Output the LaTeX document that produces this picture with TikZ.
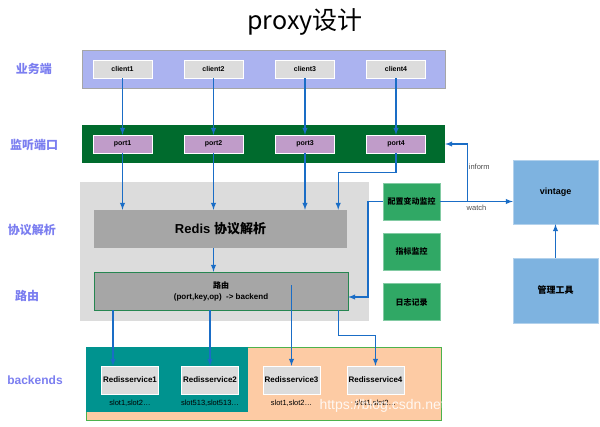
\documentclass[tikz,border=0pt]{standalone}
\usepackage{fontspec}
\setmainfont{Liberation Sans}
\newfontfamily\cjk{Noto Sans CJK SC}
\definecolor{bandblue}{HTML}{ABB3F0}
\definecolor{banddark}{HTML}{006B2D}
\definecolor{portpurple}{HTML}{C09CC9}
\definecolor{boxgray}{HTML}{DCDCDC}
\definecolor{midgray}{HTML}{A6A6A6}
\definecolor{arrowblue}{HTML}{1A6DC6}
\definecolor{labelblue}{HTML}{7B7EF0}
\definecolor{backteal}{HTML}{00938F}
\definecolor{peach}{HTML}{FDCBA4}
\definecolor{monigreen}{HTML}{30A865}
\definecolor{skyblue}{HTML}{7EB3E0}

\begin{document}
\begin{tikzpicture}[x = 1pt, y = -1pt,
	box/.style = {minimum width = #1, inner sep = 0pt, align = center, font = \bfseries\fontsize{7}{8}\selectfont},
	lane/.style = {font = \bfseries\fontsize{12}{13}\selectfont, text = labelblue},
	flow/.style = {-latex, draw = arrowblue, line width = 1.4pt}]
	\useasboundingbox (0,0) rectangle (600,426);

	\node (title) at (305,22) {\cjk\fontsize{25}{27}\selectfont proxy设计};

	% layer labels
	\node[lane] (l1) at (34,69) {\cjk 业务端};
	\node[lane] (l2) at (34,145) {\cjk 监听端口};
	\node[lane] (l3) at (32,230) {\cjk 协议解析};
	\node[lane] (l4) at (27,296) {\cjk 路由};
	\node[lane] (l5) at (35,380) {backends};

	% client and port bands
	\node[box = 363pt, minimum height = 38pt, fill = bandblue, draw = gray!70] (clientband) at (263.5,69) {};
	\node[box = 363pt, minimum height = 38pt, fill = banddark] (portband) at (263.5,144) {};
	\foreach \i/\x in {1/122.5, 2/213.5, 3/305, 4/396} {
		\node[box = 59pt, minimum height = 18pt, fill = boxgray, draw = white] (c\i) at (\x,69) {client\i};
		\node[box = 59pt, minimum height = 18pt, fill = portpurple, draw = white] (p\i) at (\x,144) {port\i};
		\draw[flow] (c\i.south) -- (p\i.north);
	}

	% proxy core
	\node[box = 289pt, minimum height = 139pt, fill = boxgray] (core) at (224.5,251.5) {};
	\node[box = 253pt, minimum height = 38pt, fill = midgray, font = \bfseries\fontsize{13}{14}\selectfont] (redis) at (220.5,229) {Redis {\cjk\bfseries 协议解析}};
	\node[box = 254pt, minimum height = 38pt, fill = midgray, draw = monigreen!80!black, font = \bfseries\fontsize{8}{11}\selectfont] (route) at (221,291) {{\cjk 路由}\\(port,key,op)\ \ -> backend};

	% monitors
	\node[box = 57pt, minimum height = 37pt, fill = monigreen, draw = monigreen!60, font = \bfseries\fontsize{8}{9}\selectfont] (cfg) at (411.5,201.5) {\cjk 配置变动监控};
	\node[box = 57pt, minimum height = 37pt, fill = monigreen, draw = monigreen!60, font = \bfseries\fontsize{8}{9}\selectfont] (metric) at (411.5,251.5) {\cjk 指标监控};
	\node[box = 57pt, minimum height = 37pt, fill = monigreen, draw = monigreen!60, font = \bfseries\fontsize{8}{9}\selectfont] (logrec) at (411.5,302) {\cjk 日志记录};

	\node[box = 85pt, minimum height = 64pt, fill = skyblue, draw = skyblue!60, font = \bfseries\fontsize{9}{10}\selectfont] (vintage) at (555.5,192) {vintage};
	\node[box = 85pt, minimum height = 65pt, fill = skyblue, draw = skyblue!60, font = \bfseries\fontsize{9}{10}\selectfont] (mgmt) at (555.5,290.5) {\cjk 管理工具};

	% backends
	\node[box = 355pt, minimum height = 73pt, fill = peach, draw = gray!60!green] (backs) at (263.5,383.5) {};
	\node[box = 162pt, minimum height = 65pt, fill = backteal] (tealpart) at (167,379.5) {};
	\foreach \i/\x/\s in {1/130/{slot1,slot2…}, 2/210/{slot513,slot513…}, 3/291.5/{slot1,slot2…}, 4/375.5/{slot1,slot2…}} {
		\node[box = 57pt, minimum height = 28pt, fill = boxgray, draw = white, font = \bfseries\fontsize{8}{9}\selectfont] (rs\i) at (\x,380) {Redisservice\i};
		\node[font = \fontsize{7.5}{8}\selectfont] (slot\i) at (\x,403) {\s};
	}
	\node[anchor = west, text = white, opacity = 0.85, font = \fontsize{14}{15}\selectfont] (mark) at (316,406) {https://blog.csdn.net/};

	% ports to parser
	\foreach \i in {1,2,3}
		\draw[flow] (p\i.south) -- (p\i.south |- redis.north);
	\draw[flow] (p4.south) -- ++(0,19) -| ([xshift=-9pt]redis.north east);
	\draw[flow] (redis.south -| p2) -- (route.north -| p2);

	% route to backends
	\coordinate (in1) at ([xshift=-17pt]rs1.north);
	\coordinate (rmid) at ([yshift=6pt]route.center);
	\draw[flow] (in1 |- route.south) -- (in1);
	\draw[flow] (rs2.north |- route.south) -- (rs2.north);
	\draw[flow] (rs3.north |- rmid) -- (rs3.north);
	\draw[flow] ([xshift=-10pt]route.south east) -- ++(0,25) -| (rs4.north);

	% config watching
	\draw[flow] (cfg.west) -- ++(-15,0) |- ([yshift=-6pt]route.east);
	\draw[flow] (cfg.east) -- (cfg.east -| vintage.west) node[midway, below, text = black!70, font = \fontsize{7.5}{8}\selectfont]{watch};
	\draw[flow] ([xshift=27pt]cfg.east) |- (portband.east) node[pos = 0.3, right, inner sep = 1pt, text = black!70, font = \fontsize{7.5}{8}\selectfont]{inform};
	\draw[flow] (mgmt.north) -- (vintage.south);
\end{tikzpicture}
\end{document}
